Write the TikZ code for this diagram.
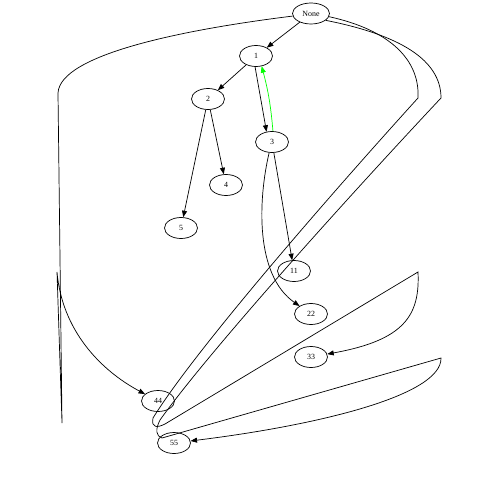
\documentclass[tikz,border=0pt]{standalone}
\usepackage{fontspec}
\setmainfont{Liberation Serif}
\usetikzlibrary{shapes.geometric,arrows.meta}

\begin{document}
\begin{tikzpicture}[x=0.02cm,y=-0.02cm,
    vertex/.style={ellipse,draw,line width=0.4pt,inner sep=0pt,
        minimum height=0.42cm,font=\fontsize{4.5}{5}\selectfont},
    edge/.style={line width=0.4pt,-{Triangle[length=1.3mm,width=1mm]}}]
    \definecolor{Green}{HTML}{00ff00}
    \useasboundingbox (0,0) rectangle (500,500);
    \foreach \name/\x/\y/\w/\txt in {n0/311/13.5/37/None,n1/256/56/33/1,
        n2/208/99/33/2,n3/272/142/33/3,n4/226/185/33/4,n5/181/228/33/5,
        n11/294/271/33/11,n22/311/314/33/22,n33/311/357/33/33,
        n44/158/401/33/44,n55/174/443/33/55}
        \node[vertex,minimum width=\w*0.02cm] (\name) at (\x,\y) {\txt};
    \foreach \from/\to in {n0/n1,n1/n2,n2/n4,n2/n5,n3/n11}
        \draw[edge] (\from) -- (\to);
    \draw[edge] (n1.-95) -- (n3.118);
    \draw[edge,Green] (n3.85) to[bend right=5] (n1.-61);
    \draw[edge] (n3.-105) .. controls (258,200) and (255,275) .. (n22);
    % None to 44, round the left side
    \draw[edge] (n0.188) .. controls (180,30) and (60,55) .. (58,93)
        -- (62,423) -- (57,272) .. controls (62,330) and (100,370) .. (n44);
    % None to 33
    \draw[edge] (n0.-10) .. controls (390,30) and (420,60) .. (418,98)
        .. controls (330,195) and (195,350) .. (153,418)
        .. controls (151,428) and (157,428) .. (165,424)
        -- (418,272) .. controls (420,315) and (405,340) .. (n33);
    % None to 55
    \draw[edge] (n0.-25) .. controls (400,35) and (441,60) .. (441,98)
        .. controls (350,195) and (210,350) .. (160,420)
        .. controls (155,430) and (156,436) .. (162,438)
        -- (441,358) .. controls (442,395) and (320,425) .. (n55);
\end{tikzpicture}
\end{document}
